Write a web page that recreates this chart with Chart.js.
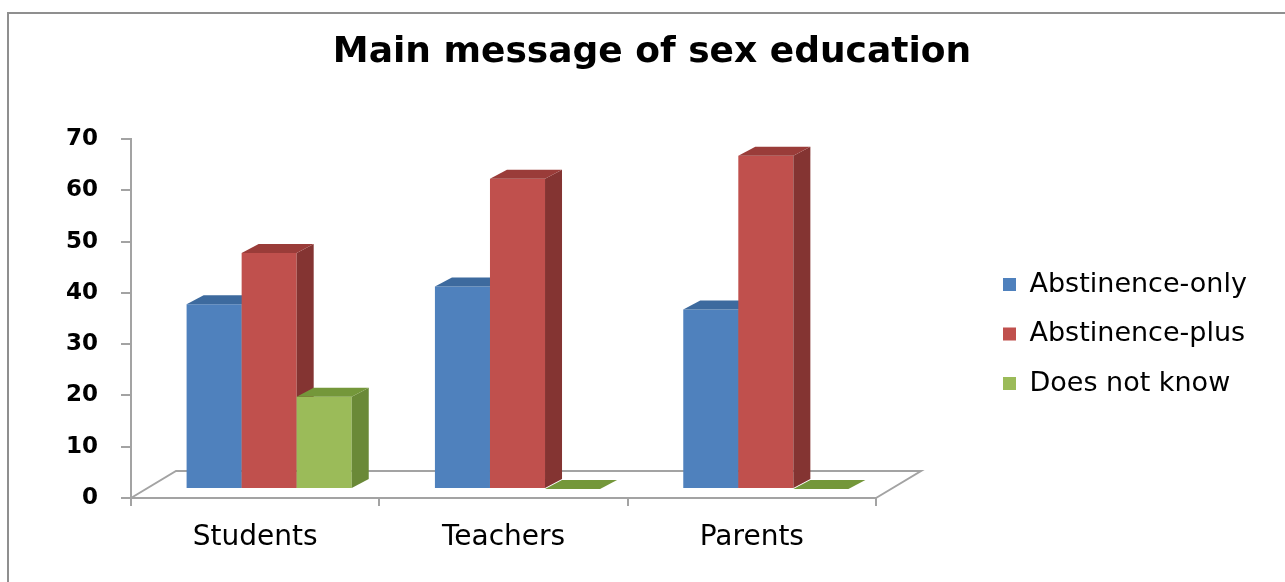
<!DOCTYPE html>
<html>
<head>
<meta charset="utf-8">
<script src="https://cdn.jsdelivr.net/npm/chart.js@4.4.1/dist/chart.umd.min.js"></script>
<style>
  html, body { margin: 0; padding: 0; background: #ffffff; overflow: hidden; }
  #chart { display: block; }
</style>
</head>
<body>
<canvas id="chart" width="1285" height="582"></canvas>
<script>
// ---- data ----
const categories = ['Students', 'Teachers', 'Parents'];
const seriesNames = ['Abstinence-only', 'Abstinence-plus', 'Does not know'];
const abstinenceOnly = [36, 39.5, 35];
const abstinencePlus = [46, 60.5, 65];
const doesNotKnow = [18, 0, 0];
const yTicks = [0, 10, 20, 30, 40, 50, 60, 70];

// ---- look ----
const FRONT = ['#4f81bd', '#c0504d', '#9bbb59'];
const SIDE  = ['#385d8a', '#843432', '#6a8937'];
const TOP   = ['#3d6a9e', '#9a3c39', '#74973a'];
const AXIS_COLOR = '#a3a3a3';
const FONT = '"DejaVu Sans", "Liberation Sans", sans-serif';

const BAR_SHIFT = { x: 14, y: -9 };   // column plane sits behind the front axis
const BAR_DEPTH = { x: 17, y: -9 };   // extrusion of each column
const FLOOR_DEPTH = { x: 45, y: -27 };
const FRAME = { left: 8, top: 13 };
const CANVAS_W = 1285;
const PLOT_LEFT = 131;
const PLOT_RIGHT = 876;
const LEGEND_BOX_X = 1003;
const LEGEND_DROP = 43;
const TITLE_CENTER_X = 652;

const LEGEND_FONT_SIZE = 27;
const LEGEND_BOX = 13;
const LEGEND_PAD = 22.5;

// width the legend will claim, so the plot keeps its right edge
function legendWidth() {
  const c = document.createElement('canvas').getContext('2d');
  c.font = LEGEND_FONT_SIZE + 'px ' + FONT;
  const textW = Math.max(...seriesNames.map(n => c.measureText(n).width));
  return LEGEND_PAD + LEGEND_BOX + LEGEND_FONT_SIZE / 2 + textW + 10;
}

function polygon(ctx, pts, color) {
  ctx.beginPath();
  ctx.moveTo(pts[0][0], pts[0][1]);
  for (let i = 1; i < pts.length; i++) ctx.lineTo(pts[i][0], pts[i][1]);
  ctx.closePath();
  ctx.fillStyle = color;
  ctx.fill();
}

const depthPlugin = {
  id: 'depth3d',
  afterLayout(chart) {
    const lg = chart.legend;
    if (lg) {
      const w = lg.width;
      lg.left = LEGEND_BOX_X - lg.options.labels.padding;
      lg.right = lg.left + w;
      lg.top += LEGEND_DROP;
      lg.bottom += LEGEND_DROP;
    }
    const tb = chart.titleBlock;
    if (tb) {
      tb.left = 0;
      tb.right = TITLE_CENTER_X * 2;
      tb.width = tb.right;
    }
  },
  beforeDraw(chart) {
    const { ctx, width, height } = chart;
    ctx.save();
    ctx.fillStyle = '#ffffff';
    ctx.fillRect(0, 0, width, height);
    ctx.strokeStyle = '#8f8f8f';
    ctx.lineWidth = 2;
    ctx.beginPath();
    ctx.moveTo(FRAME.left, height);
    ctx.lineTo(FRAME.left, FRAME.top);
    ctx.lineTo(width, FRAME.top);
    ctx.stroke();
    ctx.restore();
  },
  beforeDatasetsDraw(chart) {
    const { ctx, chartArea: a } = chart;
    // floor of the plot, behind the columns
    ctx.save();
    ctx.strokeStyle = AXIS_COLOR;
    ctx.lineWidth = 2;
    ctx.beginPath();
    ctx.moveTo(a.left, a.bottom);
    ctx.lineTo(a.left + FLOOR_DEPTH.x, a.bottom + FLOOR_DEPTH.y);
    ctx.lineTo(a.right + FLOOR_DEPTH.x, a.bottom + FLOOR_DEPTH.y);
    ctx.lineTo(a.right, a.bottom);
    ctx.stroke();
    ctx.restore();
  },
  // the columns are painted here, series by series from left to right,
  // so each column hides the side face of its left neighbour
  beforeDatasetDraw() {
    return false;
  },
  afterDatasetsDraw(chart) {
    const ctx = chart.ctx;
    ctx.save();
    ctx.translate(BAR_SHIFT.x, BAR_SHIFT.y);
    chart.data.datasets.forEach((ds, i) => {
      const meta = chart.getDatasetMeta(i);
      if (meta.hidden) return;
      meta.data.forEach(el => {
        el.draw(ctx);
        const { x, y, base, width } = el.getProps(['x', 'y', 'base', 'width'], true);
        const L = x - width / 2, R = x + width / 2;
        const T = Math.min(y, base), B = Math.max(y, base);
        const dx = BAR_DEPTH.x, dy = BAR_DEPTH.y;
        if (B - T > 0.5) {
          polygon(ctx, [[R, T], [R + dx, T + dy], [R + dx, B + dy], [R, B]], SIDE[i]);
        }
        polygon(ctx, [[L, T], [L + dx, T + dy], [R + dx, T + dy], [R, T]], TOP[i]);
      });
    });
    ctx.restore();
  }
};

const seriesValues = [abstinenceOnly, abstinencePlus, doesNotKnow];

new Chart(document.getElementById('chart'), {
  type: 'bar',
  data: {
    labels: categories,
    datasets: seriesNames.map((name, i) => ({
      label: name,
      data: seriesValues[i],
      backgroundColor: FRONT[i],
      borderWidth: 0,
      categoryPercentage: 0.665,
      barPercentage: 1.0
    }))
  },
  options: {
    responsive: false,
    devicePixelRatio: 1,
    animation: false,
    events: [],
    layout: { padding: { left: 0, right: CANVAS_W - PLOT_RIGHT - legendWidth(), top: 0, bottom: 0 } },
    scales: {
      x: {
        offset: true,
        grid: {
          offset: true,
          drawOnChartArea: false,
          drawTicks: true,
          tickLength: 8,
          color: AXIS_COLOR,
          lineWidth: 2
        },
        border: { display: true, color: AXIS_COLOR, width: 2 },
        ticks: {
          color: '#000000',
          padding: 15,
          font: { family: FONT, size: 28, weight: 'normal', lineHeight: 1.2 }
        },
        afterFit(s) { s.height = 84; }
      },
      y: {
        min: 0,
        max: 70,
        afterBuildTicks(s) { s.ticks = yTicks.map(v => ({ value: v })); },
        grid: {
          drawOnChartArea: false,
          drawTicks: true,
          tickLength: 10,
          color: AXIS_COLOR,
          lineWidth: 2
        },
        border: { display: true, color: AXIS_COLOR, width: 2 },
        ticks: {
          color: '#000000',
          padding: 23,
          font: { family: FONT, size: 23, weight: 'bold' }
        },
        afterFit(s) { s.width = PLOT_LEFT; }
      }
    },
    plugins: {
      title: {
        display: true,
        text: 'Main message of sex education',
        color: '#000000',
        font: { family: FONT, size: 36, weight: 'bold', lineHeight: 1.2 },
        padding: { top: 31, bottom: 64.8 }
      },
      legend: {
        display: true,
        position: 'right',
        labels: {
          color: '#000000',
          boxWidth: LEGEND_BOX,
          boxHeight: LEGEND_BOX,
          padding: LEGEND_PAD,
          font: { family: FONT, size: LEGEND_FONT_SIZE }
        }
      },
      tooltip: { enabled: false }
    }
  },
  plugins: [depthPlugin]
});
</script>
</body>
</html>
